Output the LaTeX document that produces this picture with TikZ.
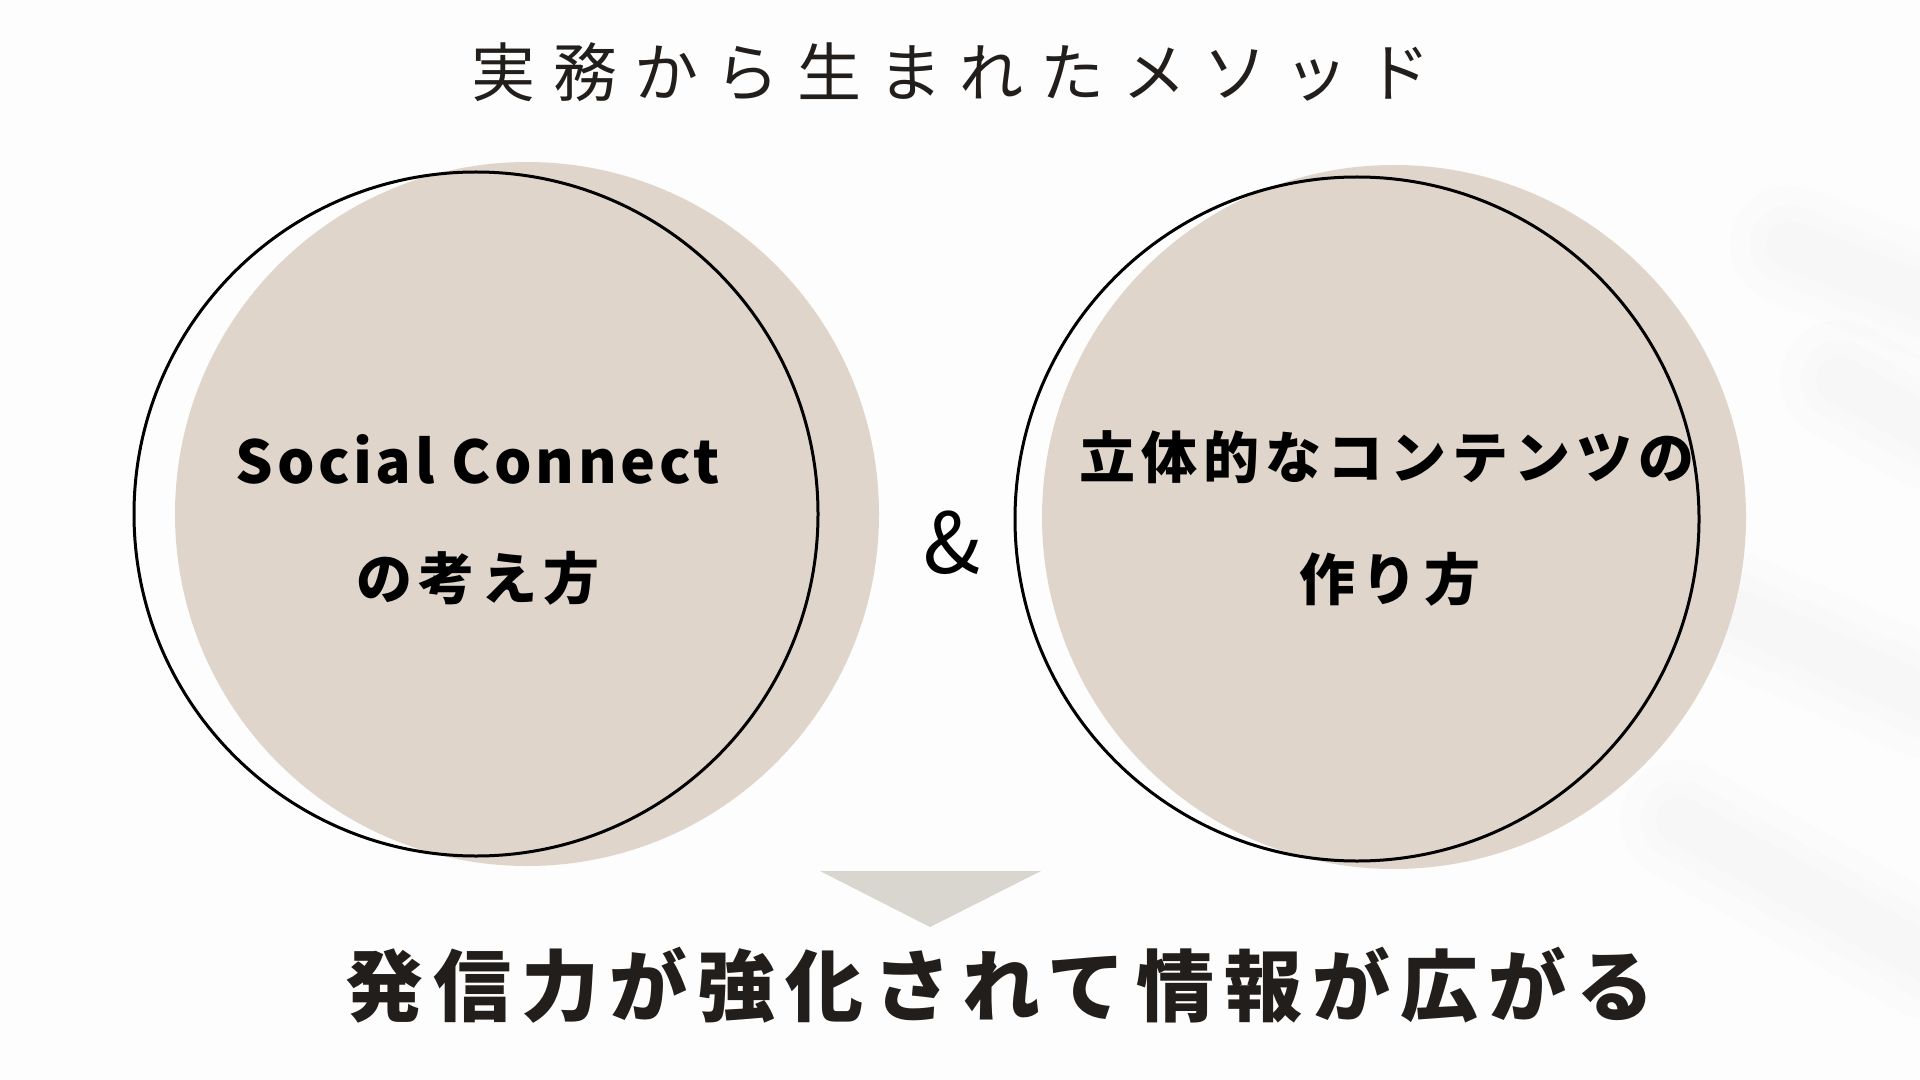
\documentclass[tikz,border=0pt]{standalone}
\usepackage{fontspec}
\setmainfont{Noto Sans CJK JP}
\usetikzlibrary{positioning}
\definecolor{beige}{HTML}{E0D5CB}
\definecolor{dreieckgrau}{HTML}{D9D5CF}
\definecolor{tinte}{HTML}{221E1B}
\definecolor{hintergrund}{HTML}{FDFDFD}
\begin{document}
\begin{tikzpicture}[x=0.5pt, y=-0.5pt,
			fuellkreis/.style={circle, fill=beige, minimum size=352pt, inner sep=0pt},
			randkreis/.style={circle, draw=black, line width=1.5pt, minimum size=342pt, inner sep=0pt},
			kreistext/.style={inner sep=0pt, text=black, font=\fontsize{28}{30}\selectfont\bfseries\addfontfeature{LetterSpace=11}},
			schatten/.style={line cap=round, draw=black, opacity=0.006}]
			%Hintergrund
			\fill[hintergrund] (0,0) rectangle (1920,1080);
			\useasboundingbox (0,0) rectangle (1920,1080);
			% Blattschatten rechts
			\foreach \w in {60,40,24} {
				\draw[schatten, line width=\w pt] (1790,245) -- (1930,300);
				\draw[schatten, line width=\w pt] (1840,380) -- (1930,430);
				\draw[schatten, line width=\w pt] (1730,610) -- (1930,700);
				\draw[schatten, line width=\w pt] (1680,820) -- (1930,960);
			}
			% Titel
			\node[text=tinte, inner sep=0pt, font=\fontsize{32}{34}\selectfont\addfontfeature{LetterSpace=27}] (titel) at (951,72) {実務から生まれたメソッド};
			% Kreise
			\node[fuellkreis] (flinks) at (527,514) {};
			\node[fuellkreis] (frechts) at (1394,517) {};
			\node[randkreis] (rlinks) at (476,514) {};
			\node[randkreis] (rrechts) at (1357,519) {};
			% Beschriftung
			\node[kreistext, font=\fontsize{29.5}{31}\selectfont\bfseries\addfontfeature{LetterSpace=6}] (social) at (478,459) {Social Connect};
			\node[kreistext] (denken) at (478,578) {の考え方};
			\node[kreistext] (inhalt) at (1387,457) {立体的なコンテンツの};
			\node[kreistext] (machen) at (1390,579) {作り方};
			\node[inner sep=0pt, font=\fontsize{42}{44}\selectfont] (und) at (952,543) {\&};
			% Pfeil nach unten
			\fill[dreieckgrau] (820,871) -- (1041,871) -- (930,927) -- cycle;
			% Ergebnis
			\node[text=tinte, inner sep=0pt, font=\fontsize{39}{41}\selectfont\bfseries\addfontfeature{LetterSpace=13}] (ergebnis) at (1000,985) {発信力が強化されて情報が広がる};
		\end{tikzpicture}
\end{document}
